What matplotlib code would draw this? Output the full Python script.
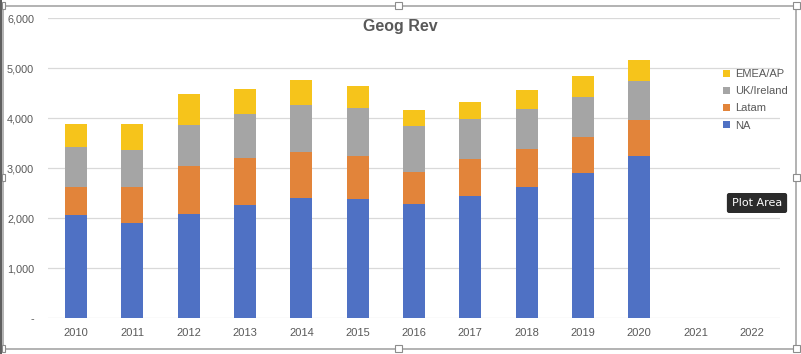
import numpy as np
import matplotlib.pyplot as plt
from matplotlib.patches import Rectangle
from matplotlib.ticker import FuncFormatter

# data (2021/2022 have no values)
years = ['2010', '2011', '2012', '2013', '2014', '2015', '2016',
         '2017', '2018', '2019', '2020', '2021', '2022']
na = [2060, 1900, 2080, 2260, 2400, 2380, 2280, 2440, 2620, 2900, 3240, 0, 0]
latam = [560, 720, 960, 940, 920, 860, 640, 740, 760, 720, 730, 0, 0]
uk_ireland = [800, 740, 820, 880, 940, 960, 920, 800, 800, 800, 770, 0, 0]
emea_ap = [460, 520, 620, 500, 500, 440, 320, 340, 380, 420, 420, 0, 0]

series = [('NA', na, '#4F71C4'),
          ('Latam', latam, '#E2843A'),
          ('UK/Ireland', uk_ireland, '#A5A5A5'),
          ('EMEA/AP', emea_ap, '#F6C41B')]

plt.rcParams['font.family'] = ['Liberation Sans', 'DejaVu Sans']
txt = '#595959'

fig = plt.figure(figsize=(8.01, 3.54), dpi=100)
ax = fig.add_axes([48/801, 1-318/354, 732/801, 299.7/354])

x = np.arange(len(years))
bottom = np.zeros(len(years))
handles = []
for name, vals, col in series:
    vals = np.array(vals, dtype=float)
    h = ax.bar(x, vals, 0.39, bottom=bottom, color=col, label=name, zorder=3)
    handles.append(h)
    bottom += vals

ax.set_xlim(-0.5, len(years) - 0.5)
ax.set_ylim(0, 6000)
ax.set_yticks(np.arange(0, 6001, 1000))
ax.yaxis.set_major_formatter(FuncFormatter(lambda v, p: '-' if v == 0 else '{:,.0f}'.format(v)))
ax.set_xticks(x)
ax.set_xticklabels(years)
ax.grid(axis='y', color='#D9D9D9', lw=0.9, zorder=0)
for s in ax.spines.values():
    s.set_visible(False)
ax.tick_params(length=0, labelsize=8, colors=txt)
ax.tick_params(axis='y', pad=10, labelsize=7.8)
ax.tick_params(axis='x', pad=7)

fig.text(0.5, 1-27/354, 'Geog Rev', ha='center', va='center', fontsize=11.5,
         fontweight='bold', color=txt)

# legend, top entry is EMEA/AP
leg = ax.legend(handles[::-1], [s[0] for s in series][::-1], loc='upper left',
                bbox_to_anchor=(723/801, 1-69/354), bbox_transform=fig.transFigure,
                frameon=False, fontsize=8, handlelength=0.6, handleheight=0.6,
                handletextpad=0.45, labelspacing=0.65, borderpad=0, borderaxespad=0)
for t in leg.get_texts():
    t.set_color(txt)

# excel tooltip
fig.text(757/801, 1-203/354, 'Plot Area', ha='center', va='center', fontsize=8,
         color='white', family='DejaVu Sans',
         bbox=dict(boxstyle='round,pad=0.45,rounding_size=0.2', fc='#2B2B2B', ec='none'))

# chart frame with selection handles
fig.patches.append(Rectangle((3/801, 5/354), 793/801, 343/354, transform=fig.transFigure,
                             fill=False, ec='#A6A6A6', lw=1.2))
for hx, hy in [(3, 5), (398, 5), (796, 5), (3, 177), (796, 177),
               (3, 348), (398, 348), (796, 348)]:
    w = 3 if hx == 3 else 7
    fig.patches.append(Rectangle(((hx-w/2)/801, 1-(hy+3.5)/354), w/801, 7/354,
                                 transform=fig.transFigure, fc='white', ec='#8C8C8C', lw=0.8,
                                 zorder=5))
fig.lines.append(plt.Line2D([1/801, 1/801], [0, 1], transform=fig.transFigure,
                            color='#404040', lw=1.2))

fig.savefig('out.png', dpi=100)
